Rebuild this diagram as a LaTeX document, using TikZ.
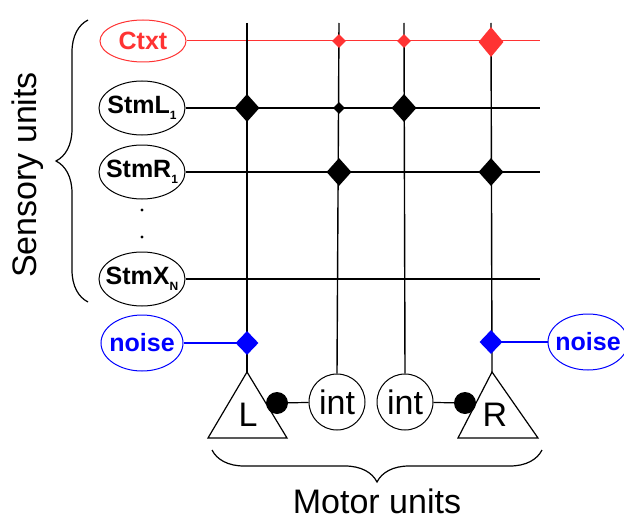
\documentclass[tikz,border=0pt]{standalone}
\usepackage{fontspec}
\setmainfont{Liberation Sans}
\usetikzlibrary{shapes.geometric,decorations.pathreplacing}
\definecolor{ctxred}{HTML}{FF3333}
\definecolor{nblue}{HTML}{0000FF}
\newcommand{\sbf}{\fontsize{25}{28}\selectfont\bfseries}
\newcommand{\bigtxt}{\fontsize{34}{40}\selectfont}
\newcommand{\subs}[1]{\raisebox{-6pt}{\fontsize{12}{12}\selectfont\bfseries #1}}
\newcommand{\ulab}[1]{\makebox[0pt]{#1}}
\begin{document}
\begin{tikzpicture}[x=1pt,y=-1pt,
  unit/.style={ellipse,draw,line width=1pt,inner sep=0pt,minimum width=86pt,minimum height=54pt,font=\sbf},
  wire/.style={line width=1.4pt},
  rwire/.style={line width=1pt,ctxred},
  bwire/.style={line width=1.2pt,nblue},
  bigd/.style={diamond,fill=black,inner sep=0pt,minimum width=25pt,minimum height=28pt},
  smalld/.style={diamond,fill=black,inner sep=0pt,minimum width=12pt,minimum height=12pt},
  intc/.style={circle,draw,line width=1pt,inner sep=0pt,minimum size=56pt,font=\bigtxt},
  synd/.style={circle,fill=black,inner sep=0pt,minimum size=22pt},
  brc/.style={decorate,decoration={brace,amplitude=32pt},line width=1.2pt}]
\useasboundingbox (0,0) rectangle (624,519);
% sensory units
\node[unit,draw=ctxred,text=ctxred,minimum height=42pt] (ctxt) at (143,41) {\ulab{Ctxt}};
\node[unit] (stmL) at (142,108) {\ulab{StmL\subs{1}}};
\node[unit] (stmR) at (142,172) {\ulab{StmR\subs{1}}};
\node[unit] (stmX) at (142,279) {\ulab{StmX\subs{N}}};
\node[unit,draw=nblue,text=nblue,minimum width=82pt,minimum height=56pt] (noiseL) at (142,343) {\ulab{noise}};
\node[unit,draw=nblue,text=nblue,minimum width=80pt,minimum height=56pt] (noiseR) at (588,342) {\ulab{noise}};
\fill (142,210) circle (1.6pt) coordinate (d1);
\fill (142,237) circle (1.6pt) coordinate (d2);
% right ends of rows
\coordinate (ectxt) at (540,41);
\coordinate (estmL) at (540,108);
\coordinate (estmR) at (540,172);
\coordinate (estmX) at (540,279);
% motor units
\coordinate (apL) at (247,372);
\coordinate (apR) at (492,372);
\draw[line width=1.2pt,line join=miter] (apL) -- (208,438) -- (287,438) -- cycle;
\draw[line width=1.2pt,line join=miter] (apR) -- (458,438) -- (538,438) -- cycle;
\node[font=\bigtxt] (L) at (248,415) {L};
\node[font=\bigtxt] (R) at (495,415) {R};
\node[intc] (intA) at (337,402) {int};
\node[intc] (intB) at (405,402) {int};
\node[synd] (dotL) at (277,403) {};
\node[synd] (dotR) at (465,403) {};
% column tops
\coordinate (t1) at (247,23);
\coordinate (t2) at (339,23);
\coordinate (t3) at (404,23);
\coordinate (t4) at (491,23);
% wires
\draw[rwire] (ctxt.east) -- (ectxt);
\draw[wire] (stmL.east) -- (estmL);
\draw[wire] (stmR.east) -- (estmR);
\draw[wire] (stmX.east) -- (estmX);
\draw[wire] (t1) -- (apL);
\draw[wire] (t2) -- (intA.north);
\draw[wire] (t3) -- (intB.north);
\draw[wire] (t4) -- (apR);
\draw[bwire] (noiseL.east) -- (247,343);
\draw[bwire] (noiseR.west) -- (491,342);
\draw[line width=1.2pt] (dotL) -- (intA);
\draw[line width=1.2pt] (intB) -- (dotR);
% synapses
\node[diamond,fill=ctxred,inner sep=0pt,minimum width=14pt,minimum height=14pt] (c2) at (339,41) {};
\node[diamond,fill=ctxred,inner sep=0pt,minimum width=14pt,minimum height=14pt] (c3) at (404,41) {};
\node[diamond,fill=ctxred,inner sep=0pt,minimum width=25pt,minimum height=30pt] (c4) at (491,42) {};
\node[bigd] (l1) at (247,108) {};
\node[smalld] (l2) at (339,108) {};
\node[bigd] (l3) at (404,108) {};
\node[bigd] (r2) at (339,172) {};
\node[bigd] (r4) at (491,172) {};
\node[diamond,fill=nblue,inner sep=0pt,minimum width=23pt,minimum height=24pt] (n1) at (247,343) {};
\node[diamond,fill=nblue,inner sep=0pt,minimum width=23pt,minimum height=24pt] (n4) at (491,342) {};
% braces
\draw[brc] (88,302) -- (88,20);
\draw[brc] (542,450) -- (212,450);
\node[font=\bigtxt,rotate=90] (sens) at (28,175) {Sensory units};
\node[font=\bigtxt] (mot) at (377,501) {Motor units};
\end{tikzpicture}
\end{document}
